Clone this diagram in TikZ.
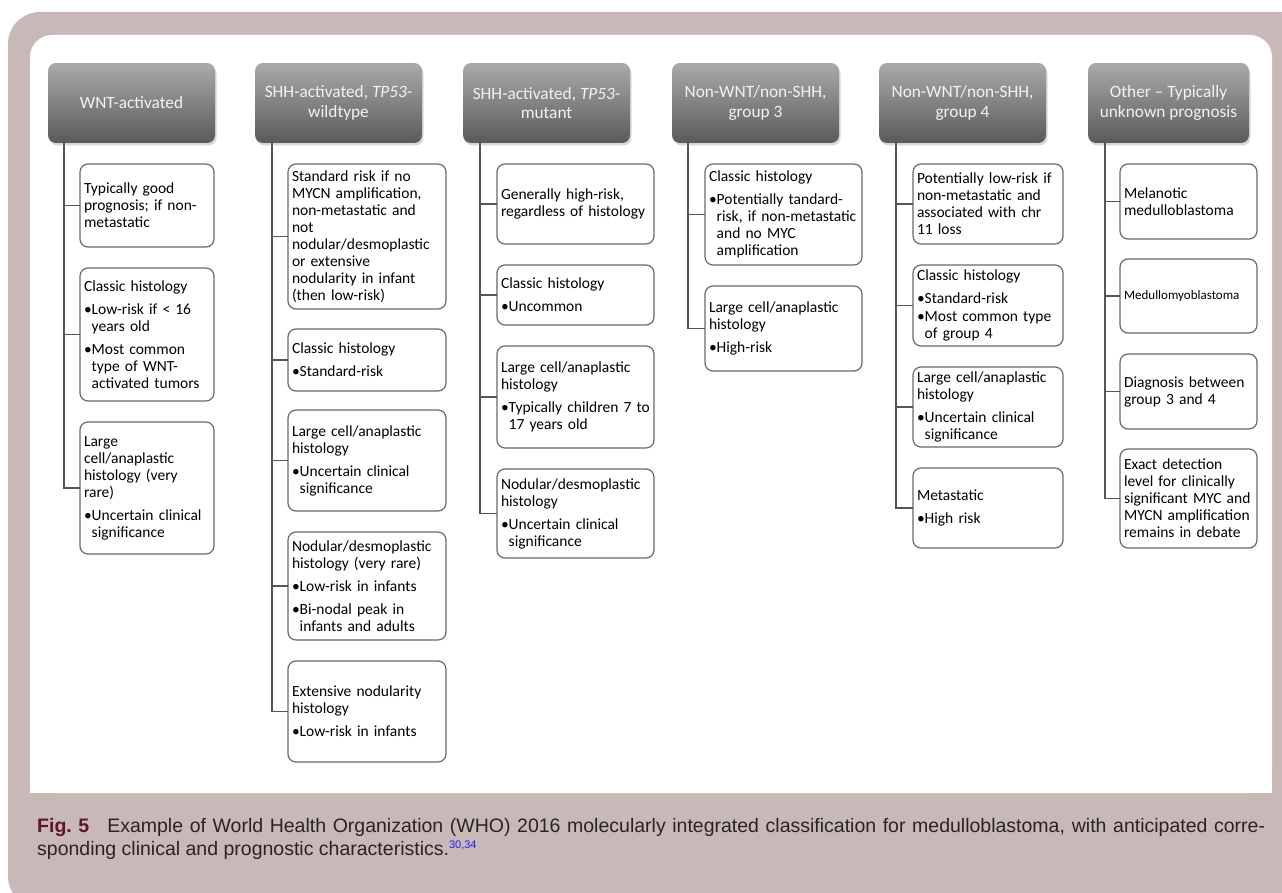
\documentclass[tikz,border=0pt]{standalone}
\usepackage{fontspec}
\setmainfont{Carlito}
\newfontfamily\capfont{Liberation Sans}
\usetikzlibrary{positioning,calc,shadows}

\definecolor{mauve}{RGB}{201,184,184}
\definecolor{headtop}{RGB}{170,170,170}
\definecolor{headbot}{RGB}{90,90,90}
\definecolor{headtxt}{RGB}{242,242,242}
\definecolor{boxline}{RGB}{105,105,105}
\definecolor{linkline}{RGB}{85,85,85}
\definecolor{captext}{RGB}{40,36,38}
\definecolor{figred}{RGB}{92,22,46}
\definecolor{refblue}{RGB}{30,30,240}

% bullet paragraph with hanging indent
\newlength\bulw
\newcommand{\bul}[2][6pt]{\par\vspace{#1}\noindent\settowidth{\bulw}{\textbullet}%
  \hangindent=\bulw\hangafter=1\relax\textbullet#2\par}

\begin{document}
\begin{tikzpicture}[x=1pt, y=-1pt,
    grouphead/.style={rectangle, rounded corners=8pt, anchor=north west,
                  minimum width=167pt, minimum height=80pt, outer sep=0pt,
                  top color=headtop, bottom color=headbot, text=headtxt,
                  align=center, font=\fontsize{17.3}{19.5}\selectfont,
                  drop shadow={shadow xshift=1.5pt, shadow yshift=-2.5pt, opacity=0.3}},
    leaf/.style={rectangle, rounded corners=8pt, draw=boxline, line width=1.2pt,
                  fill=white, anchor=north west, align=left, text width=#1,
                  inner xsep=4pt, inner ysep=2pt, outer sep=0pt,
                  font=\fontsize{15.5}{17}\selectfont},
    link/.style={draw=linkline, line width=1.2pt}
]
\useasboundingbox (0,0) rectangle (1282,893);
\fill[white] (0,0) rectangle (1282,893);

% Frame
\begin{scope}
\clip (0,0) rectangle (1282,893);
\fill[mauve, rounded corners=32pt] (8,12) rectangle (1312,908);
\end{scope}
\fill[white, rounded corners=22pt] (30,35) rectangle (1272,793);
\fill[white] (30,70) rectangle (1272,793);

% Group headers
\node[grouphead] (wnt) at (48,63) {WNT-activated};
\node[grouphead] (shhwt) at (255,63) {SHH-activated, \textit{TP53}-\\wildtype};
\node[grouphead] (shhmut) at (463,63) {SHH-activated, \textit{TP53}-\\mutant};
\node[grouphead] (grpthree) at (672,63) {Non-WNT/non-SHH,\\group 3};
\node[grouphead] (grpfour) at (879,63) {Non-WNT/non-SHH,\\group 4};
\node[grouphead, minimum width=161pt] (other) at (1088,63) {Other -- Typically\\unknown prognosis};

% WNT-activated
\node[leaf=126pt, minimum height=83pt] (wnta) at (80,164)
  {Typically good\newline prognosis; if non-\newline metastatic};
\node[leaf=126pt, minimum height=133pt] (wntb) at (80,268)
  {Classic histology\bul{Low-risk if < 16\newline years old}\bul{Most common\newline type of WNT-\newline activated tumors}};
\node[leaf=126pt, minimum height=132pt] (wntc) at (80,422)
  {Large\newline cell/anaplastic\newline histology (very\newline rare)\bul{Uncertain clinical\newline significance}};

% SHH-activated, TP53-wildtype
\node[leaf=150pt, minimum height=145pt] (shhwta) at (288,164)
  {Standard risk if no\newline MYCN amplification,\newline non-metastatic and\newline not\newline nodular/desmoplastic\newline or extensive\newline nodularity in infant\newline (then low-risk)};
\node[leaf=150pt, minimum height=62pt] (shhwtb) at (288,329)
  {Classic histology\bul{Standard-risk}};
\node[leaf=150pt, minimum height=101pt] (shhwtc) at (288,410)
  {Large cell/anaplastic\newline histology\bul{Uncertain clinical\newline significance}};
\node[leaf=150pt, minimum height=108pt] (shhwtd) at (288,532)
  {Nodular/desmoplastic\newline histology (very rare)\bul{Low-risk in infants}\bul{Bi-nodal peak in\newline infants and adults}};
\node[leaf=150pt, minimum height=101pt] (shhwte) at (288,661)
  {Extensive nodularity\newline histology\bul{Low-risk in infants}};

% SHH-activated, TP53-mutant
\node[leaf=149pt, minimum height=80pt] (shhmuta) at (497,164)
  {Generally high-risk,\newline regardless of histology};
\node[leaf=149pt, minimum height=60pt] (shhmutb) at (497,265)
  {Classic histology\bul{Uncommon}};
\node[leaf=149pt, minimum height=102pt] (shhmutc) at (497,346)
  {Large cell/anaplastic\newline histology\bul{Typically children 7 to\newline 17 years old}};
\node[leaf=149pt, minimum height=89pt] (shhmutd) at (497,469)
  {Nodular/desmoplastic\newline histology\bul{Uncertain clinical\newline significance}};

% Non-WNT/non-SHH, group 3
\node[leaf=149pt, minimum height=101pt] (grpthreea) at (705,164)
  {Classic histology\bul{Potentially tandard-\newline risk, if non-metastatic\newline and no MYC\newline amplification}};
\node[leaf=149pt, minimum height=85pt] (grpthreeb) at (705,286)
  {Large cell/anaplastic\newline histology\bul{High-risk}};

% Non-WNT/non-SHH, group 4
\node[leaf=142pt, minimum height=80pt] (grpfoura) at (913,164)
  {Potentially low-risk if\newline non-metastatic and\newline associated with chr\newline 11 loss};
\node[leaf=142pt, minimum height=81pt, inner ysep=0pt] (grpfourb) at (913,265)
  {Classic histology\bul{Standard-risk}\bul[1pt]{Most common type\newline of group 4}};
\node[leaf=142pt, minimum height=80pt] (grpfourc) at (913,367)
  {Large cell/anaplastic\newline histology\bul{Uncertain clinical\newline significance}};
\node[leaf=142pt, minimum height=80pt] (grpfourd) at (913,468)
  {Metastatic\bul{High risk}};

% Other - typically unknown prognosis
\node[leaf=129pt, minimum height=75pt] (othera) at (1120,164)
  {Melanotic\newline medulloblastoma};
\node[leaf=129pt, minimum height=74pt, font=\fontsize{13}{15}\selectfont] (otherb) at (1120,259)
  {Medullomyoblastoma};
\node[leaf=129pt, minimum height=75pt] (otherc) at (1120,354)
  {Diagnosis between\newline group 3 and 4};
\node[leaf=129pt, minimum height=99pt] (otherd) at (1120,449)
  {Exact detection\newline level for clinically\newline significant MYC and\newline MYCN amplification\newline remains in debate};

% Connections
\draw[link] ($(wnt.south west)+(16,0)$) |- (wnta.west);
\draw[link] ($(wnt.south west)+(16,0)$) |- (wntb.west);
\draw[link] ($(wnt.south west)+(16,0)$) |- (wntc.west);
\draw[link] ($(shhwt.south west)+(17,0)$) |- (shhwta.west);
\draw[link] ($(shhwt.south west)+(17,0)$) |- (shhwtb.west);
\draw[link] ($(shhwt.south west)+(17,0)$) |- (shhwtc.west);
\draw[link] ($(shhwt.south west)+(17,0)$) |- (shhwtd.west);
\draw[link] ($(shhwt.south west)+(17,0)$) |- (shhwte.west);
\draw[link] ($(shhmut.south west)+(17,0)$) |- (shhmuta.west);
\draw[link] ($(shhmut.south west)+(17,0)$) |- (shhmutb.west);
\draw[link] ($(shhmut.south west)+(17,0)$) |- (shhmutc.west);
\draw[link] ($(shhmut.south west)+(17,0)$) |- (shhmutd.west);
\draw[link] ($(grpthree.south west)+(16,0)$) |- (grpthreea.west);
\draw[link] ($(grpthree.south west)+(16,0)$) |- (grpthreeb.west);
\draw[link] ($(grpfour.south west)+(17,0)$) |- (grpfoura.west);
\draw[link] ($(grpfour.south west)+(17,0)$) |- (grpfourb.west);
\draw[link] ($(grpfour.south west)+(17,0)$) |- (grpfourc.west);
\draw[link] ($(grpfour.south west)+(17,0)$) |- (grpfourd.west);
\draw[link] ($(other.south west)+(17,0)$) |- (othera.west);
\draw[link] ($(other.south west)+(17,0)$) |- (otherb.west);
\draw[link] ($(other.south west)+(17,0)$) |- (otherc.west);
\draw[link] ($(other.south west)+(17,0)$) |- (otherd.west);

% Caption
\node[anchor=base west, inner sep=0pt, text=captext,
      font=\capfont\fontsize{19.5}{23}\selectfont] (capa) at (37,832)
  {\makebox[1228pt][s]{\textcolor{figred}{\textbf{Fig.~5}}\hspace{18pt}Example of World Health Organization (WHO) 2016 molecularly integrated classification for medulloblastoma, with anticipated corre-}};
\node[anchor=base west, inner sep=0pt, text=captext,
      font=\capfont\fontsize{19.5}{23}\selectfont] (capb) at (37,855)
  {sponding clinical and prognostic characteristics.\raisebox{7pt}{\fontsize{11}{11}\selectfont\textcolor{refblue}{30,34}}};
\end{tikzpicture}
\end{document}
